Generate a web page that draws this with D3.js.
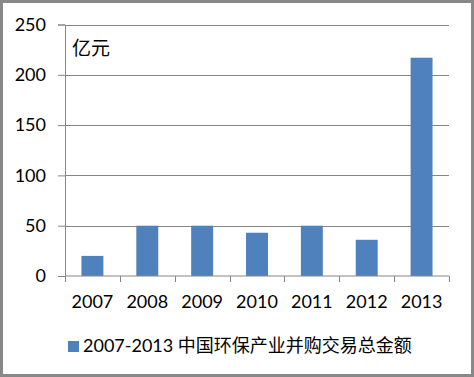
<!DOCTYPE html>
<html lang="zh">
<head>
    <meta charset="UTF-8">
    <title>2007-2013 中国环保产业并购交易总金额</title>
    <script src="https://d3js.org/d3.v7.min.js"></script>
    <style>
        body { margin: 0; background: #fff; }
        svg { display: block; }
    </style>
</head>
<body>
    <svg></svg>

    <script>
        // data
        const years = ["2007", "2008", "2009", "2010", "2011", "2012", "2013"];
        const amounts = [20, 50, 50, 43, 50, 36, 217];
        const yTicks = [0, 50, 100, 150, 200, 250];
        const seriesName = "2007-2013 中国环保产业并购交易总金额";
        const unitLabel = "亿元";

const width = 474, height = 377;
const margin = { top: 24.5, right: 25, bottom: 101, left: 65 };
const font = "Lato, 'Noto Sans CJK SC', sans-serif";

const svg = d3.select("svg")
    .attr("width", width)
    .attr("height", height);

// outer frame
svg.append("rect")
    .attr("x", 1.5).attr("y", 1.5)
    .attr("width", width - 3).attr("height", height - 3)
    .attr("fill", "#fff")
    .attr("stroke", "#888")
    .attr("stroke-width", 3);

const x = d3.scaleBand()
    .domain(years)
    .range([margin.left, width - margin.right])
    .paddingInner(0.6)
    .paddingOuter(0.3);

const y = d3.scaleLinear()
    .domain([0, 250])
    .range([height - margin.bottom, margin.top]);

// gridlines + y ticks
const yAxis = svg.append("g")
    .attr("transform", `translate(${margin.left},0)`)
    .call(d3.axisLeft(y).tickValues(yTicks).tickSize(7).tickPadding(12));
yAxis.select(".domain").attr("stroke", "#868686");
yAxis.selectAll(".tick line").attr("stroke", "#868686");
yAxis.selectAll(".tick text")
    .attr("font-family", font).attr("font-size", 18).attr("fill", "#000");

svg.append("g")
    .selectAll("line")
    .data(yTicks.filter(d => d > 0))
    .join("line")
    .attr("x1", margin.left).attr("x2", width - margin.right)
    .attr("y1", d => Math.round(y(d)) + 0.5).attr("y2", d => Math.round(y(d)) + 0.5)
    .attr("stroke", "#868686");

// bars
svg.append("g")
    .selectAll("rect")
    .data(amounts)
    .join("rect")
    .attr("x", (d, i) => x(years[i]))
    .attr("width", x.bandwidth())
    .attr("y", d => y(d))
    .attr("height", d => y(0) - y(d))
    .attr("fill", "#4F81BD");

// x axis with ticks at category boundaries
const step = x.step();
const x0 = margin.left;
const xAxis = svg.append("g")
    .attr("transform", `translate(0,${y(0)})`);
xAxis.append("line")
    .attr("x1", margin.left).attr("x2", width - margin.right)
    .attr("stroke", "#868686");
xAxis.selectAll("line.tk")
    .data(d3.range(years.length + 1))
    .join("line")
    .attr("class", "tk")
    .attr("x1", i => Math.round(x0 + i * step) + 0.5)
    .attr("x2", i => Math.round(x0 + i * step) + 0.5)
    .attr("y1", 0).attr("y2", 6)
    .attr("stroke", "#868686");
xAxis.selectAll("text")
    .data(years)
    .join("text")
    .attr("x", d => x(d) + x.bandwidth() / 2)
    .attr("y", 32)
    .attr("text-anchor", "middle")
    .attr("font-family", font).attr("font-size", 18)
    .attr("fill", "#000")
    .text(d => d);

// unit label
svg.append("text")
    .attr("x", 72).attr("y", 55)
    .attr("font-family", font).attr("font-size", 19)
    .attr("fill", "#000")
    .text(unitLabel);

// legend
svg.append("rect")
    .attr("x", 68).attr("y", 341)
    .attr("width", 11).attr("height", 11)
    .attr("fill", "#4F81BD");
svg.append("text")
    .attr("x", 83).attr("y", 352)
    .attr("font-family", font).attr("font-size", 18)
    .attr("fill", "#000")
    .text(seriesName);
    </script>
</body>
</html>
